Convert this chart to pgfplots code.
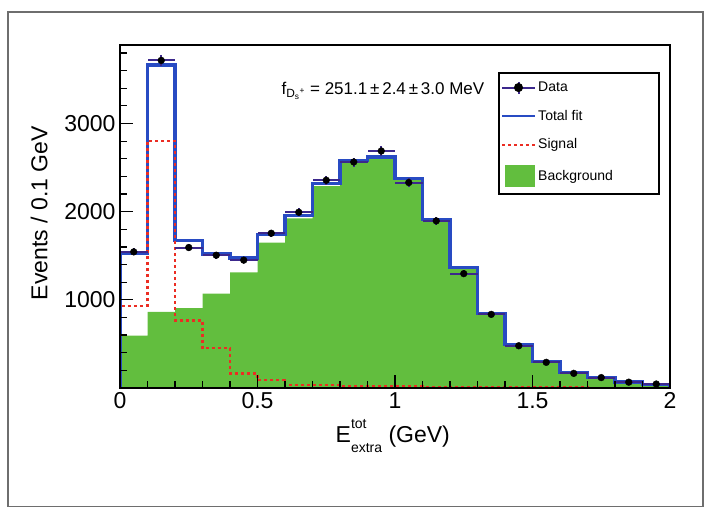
\documentclass[border=0pt]{standalone}
\usepackage{fontspec}
\setmainfont{Liberation Sans}
\usepackage{pgfplots}
\usepackage{pgfplotstable}
\pgfplotsset{compat=1.18}
\definecolor{bkg}{RGB}{98,190,62}
\definecolor{fitb}{RGB}{40,75,195}
\definecolor{sigr}{RGB}{235,45,35}
\definecolor{datab}{RGB}{60,40,140}
\definecolor{framec}{RGB}{110,110,110}

\pgfplotstableread{
x tot sig bkg
0.0 0 0 0
0.0 1530 930 595
0.1 3664 2800 864
0.2 1670 765 905
0.3 1520 450 1070
0.4 1475 165 1310
0.5 1742 92 1650
0.6 1960 35 1925
0.7 2320 30 2290
0.8 2582 25 2557
0.9 2620 20 2600
1.0 2375 18 2357
1.1 1911 15 1896
1.2 1367 12 1355
1.3 846 10 836
1.4 497 8 489
1.5 298 6 292
1.6 177 5 172
1.7 120 4 116
1.8 68 3 65
1.9 44 2 42
2.0 44 2 42
2.0 0 0 0
}\hist

\pgfplotstableread{
x y ex ey
0.05 1544 0.05 39
0.15 3715 0.05 61
0.25 1593 0.05 40
0.35 1506 0.05 39
0.45 1450 0.05 38
0.55 1755 0.05 42
0.65 1993 0.05 45
0.75 2356 0.05 49
0.85 2563 0.05 51
0.95 2688 0.05 52
1.05 2330 0.05 48
1.15 1895 0.05 44
1.25 1297 0.05 36
1.35 835 0.05 29
1.45 479 0.05 22
1.55 291 0.05 17
1.65 166 0.05 13
1.75 118 0.05 11
1.85 66 0.05 8
1.95 45 0.05 7
}\data

\newcommand{\bigfnt}{\fontsize{23bp}{25bp}\selectfont}
\newcommand{\scrfnt}{\fontsize{14bp}{14bp}\selectfont}
\newcommand{\legbox}[1]{\makebox[117bp][l]{#1}}

\begin{document}
\begin{tikzpicture}
\useasboundingbox (0,0) rectangle (726bp,508bp);
\draw[framec, line width=1.2bp] (8bp,1.5bp) rectangle (703bp,496bp);
\begin{axis}[
  at={(120bp,120bp)}, anchor=south west,
  scale only axis, width=550bp, height=343bp,
  xmin=0, xmax=2, ymin=0, ymax=3890,
  axis on top,
  axis line style={line width=2.5bp},
  tick pos=left, tick align=inside,
  major tick length=13bp, minor tick length=7bp,
  every tick/.style={black, line width=1.2bp},
  xtick={0,0.5,1,1.5,2},
  minor xtick={0.1,0.2,0.3,0.4,0.6,0.7,0.8,0.9,1.1,1.2,1.3,1.4,1.6,1.7,1.8,1.9},
  ytick={1000,2000,3000},
  minor ytick={200,400,600,800,1200,1400,1600,1800,2200,2400,2600,2800,3200,3400,3600,3800},
  /pgf/number format/assume math mode=true,
  /pgf/number format/1000 sep={},
  tick label style={font=\bigfnt},
  xticklabel style={yshift=-1bp},
  yticklabel style={xshift=-1bp},
  xlabel={E\rlap{\raisebox{1.15ex}{\scrfnt tot}}\raisebox{-0.75ex}{\scrfnt extra} (GeV)},
  ylabel={Events / 0.1 GeV},
  label style={font=\bigfnt},
  xlabel style={at={(axis description cs:0.496,-0.14)}, anchor=center},
  ylabel style={at={(axis description cs:-0.147,0.51)}, anchor=center},
  legend style={at={(0.687,0.921)}, anchor=north west, draw=black, line width=1.8bp,
    font=\fontsize{14bp}{16bp}\selectfont, inner xsep=2bp, inner ysep=7bp,
    row sep=13bp, cells={anchor=west}},
  legend cell align=left,
]
\addlegendimage{legend image code/.code={
  \draw[datab, line width=2bp] (0bp,0bp) -- (33bp,0bp);
  \draw[datab, line width=2bp] (16.5bp,-6bp) -- (16.5bp,6bp);
  \fill[black] (16.5bp,0bp) circle (3.6bp);}}
\addlegendentry{\legbox{Data}}
\addlegendimage{legend image code/.code={
  \draw[fitb, line width=2.5bp] (0bp,0bp) -- (33bp,0bp);}}
\addlegendentry{\legbox{Total fit}}
\addlegendimage{legend image code/.code={
  \draw[sigr, line width=2bp, dash pattern=on 3bp off 3bp] (0bp,0bp) -- (33bp,0bp);}}
\addlegendentry{\legbox{Signal}}
\addlegendimage{legend image code/.code={
  \fill[bkg] (4bp,-10bp) rectangle (32bp,10bp);}}
\addlegendentry{\legbox{Background}}

\addplot[const plot, fill=bkg, draw=none, forget plot] table[x=x, y=bkg] {\hist} \closedcycle;
\addplot[const plot, fitb, line width=3.2bp, forget plot] table[x=x, y=tot] {\hist};
\addplot[const plot, sigr, line width=2.2bp, dash pattern=on 3bp off 3bp, forget plot] table[x=x, y=sig] {\hist};
\addplot[only marks, mark=*, mark size=3.4bp, black, forget plot,
  error bars/.cd, x dir=both, x explicit, y dir=both, y explicit,
  error mark=none, error bar style={line width=2bp, color=datab}]
  table[x=x, y=y, x error=ex, y error=ey] {\data};

\node[font=\fontsize{17bp}{19bp}\selectfont] at (axis description cs:0.478,0.866)
  {f\textsubscript{D\textsubscript{s}\textsuperscript{+}} = 251.1\,±\,2.4\,±\,3.0 MeV};
\end{axis}
\end{tikzpicture}
\end{document}
